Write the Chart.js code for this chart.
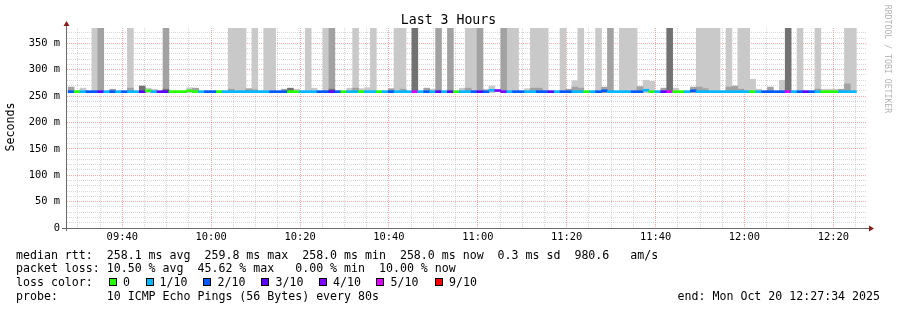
<!DOCTYPE html>
<html>
<head>
<meta charset="utf-8">
<script src="https://cdn.jsdelivr.net/npm/chart.js@4/dist/chart.umd.min.js"></script>
<style>
html,body{margin:0;padding:0;background:#fff;}
#wrap{position:relative;width:897px;height:310px;overflow:hidden;background:#fff;}
#c{position:absolute;left:0;top:0;}
.t{position:absolute;font-family:'DejaVu Sans Mono',monospace;font-size:11.6px;line-height:14px;white-space:pre;color:#000;}
.title{position:absolute;left:0;width:897px;top:12px;text-align:center;font-family:'DejaVu Sans Mono',monospace;font-size:13.2px;line-height:16px;color:#000;}
.ytitle{position:absolute;left:-40px;top:120px;width:100px;text-align:center;transform:rotate(-90deg);transform-origin:50% 50%;}
.rrd{position:absolute;font-family:'DejaVu Sans Mono',monospace;font-size:8.2px;line-height:10px;color:#b4b4b4;white-space:pre;width:120px;text-align:center;left:828px;top:54px;transform:rotate(90deg);transform-origin:50% 50%;}
.sw{position:absolute;width:8px;height:8px;box-sizing:border-box;border:1px solid #000;top:278px;}
</style>
</head>
<body>
<div id="wrap">
<canvas id="c" width="897" height="310"></canvas>
<div class="title">Last 3 Hours</div>
<div class="t ytitle">Seconds</div>
<div class="rrd">RRDTOOL / TOBI OETIKER</div>
<div id="legend"></div>
</div>
<script>
// ---- data (one value per 80 s step, 133 steps) ----
const median = [
 258.3,258.3,258.3,258.3,258.3,258.3,258.3,258.3,258.3,258.3,
 258.3,258.3,258.3,260,258.3,258.3,258.3,258.3,258.3,258.3,
 260,258.3,258.3,258.3,258.3,258.3,258.3,258.3,258.3,258.3,
 258.3,258.3,258.3,258.3,258.3,258.3,258.3,258.3,258.3,258.3,
 258.3,258.3,258.3,258.3,258.3,258.3,258.3,258.3,258.3,258.3,
 258.3,258.3,258.3,258.3,258.3,258.3,258.3,258.3,258.3,258.3,
 258.3,258.3,258.3,258.3,258.3,258.3,258.3,258.3,258.3,258.3,
 258.3,261,260.5,258.3,258.3,258.3,258.3,258.3,258.3,258.3,
 258.3,258.3,258.3,258.3,258.3,258.3,258.3,258.3,258.3,258.3,
 260,258.3,258.3,258.3,258.3,258.3,258.3,261,258.3,258.3,
 258.3,258.3,258.3,258.3,258.3,260,258.3,258.3,258.3,258.3,
 258.3,258.3,258.3,258.3,258.3,258.3,258.3,258.3,258.3,258.3,
 258.3,258.3,258.3,258.3,258.3,258.3,258.3,258.3,258.3,258.3,
 258.3,258.3,258.3];
const lossPings = [
 2,0,1,2,2,3,1,2,1,2,
 1,1,3,0,1,3,3,0,0,0,
 0,0,1,2,2,0,1,1,1,1,
 1,1,1,1,2,2,2,0,0,1,
 1,1,2,2,3,2,0,1,1,0,
 1,1,0,1,2,1,1,1,5,1,
 2,1,3,1,3,0,1,1,2,3,
 2,1,4,4,1,2,2,1,1,2,
 2,3,1,2,2,1,1,0,1,2,
 2,1,1,1,1,2,2,1,0,1,
 3,5,0,0,1,2,1,1,1,1,
 1,1,1,1,1,0,1,2,2,2,
 2,5,1,2,3,2,1,0,0,0,
 1,1,1];
const _ = null;
const smokeLight = [
 _,_,265,_,400,_,_,_,_,_,
 400,_,_,265,263,_,_,_,_,_,
 266,_,_,_,_,_,_,400,400,400,
 _,400,_,400,400,_,_,_,263,_,
 400,265,_,400,_,_,_,265,400,264,
 266,400,_,_,_,400,400,_,_,_,
 _,263,_,_,_,_,265,400,400,_,
 263,269,_,_,400,400,_,264,400,400,
 400,_,_,400,_,279,400,_,_,400,
 _,_,_,400,400,400,_,280,278,_,
 _,_,265,_,_,_,400,400,400,400,
 _,400,_,400,400,282,263,_,_,_,
 280,_,_,400,_,_,400,263,263,263,
 _,400,400];
const smokeMid = [
 267,_,_,_,_,400,_,263,_,_,
 265,_,_,_,_,_,400,_,_,_,
 _,265,_,_,_,_,_,263,_,_,
 264,262,_,_,_,_,263,_,_,_,
 _,_,_,_,400,_,_,_,265,_,
 _,_,_,_,264,_,263,_,_,_,
 265,_,400,_,400,_,_,265,_,400,
 _,_,_,400,_,_,_,_,265,265,
 _,_,_,_,263,267,265,_,_,_,
 267,400,_,_,_,_,268,_,_,_,
 265,_,_,_,_,267,267,264,_,_,
 _,267,269,263,_,_,_,_,267,_,
 _,_,_,_,_,_,263,_,_,_,
 263,273,_];
const smokeDark = [
 _,_,_,_,_,_,_,_,_,_,
 _,_,269,_,_,_,263,_,_,_,
 _,_,_,_,_,_,_,_,_,_,
 _,_,_,_,_,_,_,265,_,_,
 _,_,_,_,263,_,_,_,_,_,
 _,_,_,_,_,_,_,_,400,_,
 _,_,_,_,_,_,_,_,_,_,
 _,_,_,_,_,_,_,_,_,_,
 _,_,_,_,_,_,_,_,_,_,
 _,_,_,_,_,_,_,_,_,_,
 _,400,_,_,_,_,_,_,_,_,
 _,_,_,_,_,_,_,_,_,_,
 _,400,_,_,_,_,_,_,_,_,
 _,_,_];
const lossColors = ['#26ff00','#00b8ff','#0059ff','#5e00ff','#7e00ff','#dd00ff','#dd00ff','#dd00ff','#dd00ff','#ff0000','#ff0000'];
const legendSteps = ['0','1/10','2/10','3/10','4/10','5/10','9/10'];
const legendColors = ['#26ff00','#00b8ff','#0059ff','#5e00ff','#7e00ff','#dd00ff','#ff0000'];
const xTickMinutes = []; for (let m = 30; m <= 205; m += 5) xTickMinutes.push(m); // minutes after 09:00
const yTickValues = []; for (let v = 0; v <= 370; v += 10) yTickValues.push(v);  // ms

// ---- time axis (minutes after 09:00) ----
const xStart = 27 + 34/60;          // 09:27:34
const xEnd = xStart + 180;          // 12:27:34
const firstStep = 27 + 50/60;       // first 80 s step begins
const stepMin = 80/60;
const xOf = i => firstStep + (i + 0.5) * stepMin;
const SMOKE_BASE = 256.5;
const LINE_HALF = 1.9;

function floating(arr){
  const out=[];
  arr.forEach((v,i)=>{ if(v!==null) out.push({x:xOf(i), y:[SMOKE_BASE, v]}); });
  return out;
}
function fmt(m){ const h=Math.floor(m/60)+9, mm=m%60; return String(h).padStart(2,'0')+':'+String(mm).padStart(2,'0'); }

const GRID_MINOR = 'rgba(150,150,150,0.38)';
const GRID_MAJOR = 'rgba(230,40,40,0.4)';
const MONO = "'DejaVu Sans Mono', monospace";

const decor = {
  id:'decor',
  afterDraw(chart){
    const {ctx, chartArea:a} = chart;
    ctx.save();
    ctx.strokeStyle='#6a6a6a'; ctx.lineWidth=1;
    ctx.beginPath();
    ctx.moveTo(a.left-0.5, a.top-4); ctx.lineTo(a.left-0.5, a.bottom+3);
    ctx.moveTo(a.left-5, a.bottom+0.5); ctx.lineTo(a.right+2, a.bottom+0.5);
    ctx.stroke();
    ctx.fillStyle='#8a1c1c';
    ctx.beginPath();
    ctx.moveTo(a.left-0.5, a.top-7); ctx.lineTo(a.left-3.5, a.top-2); ctx.lineTo(a.left+2.5, a.top-2); ctx.closePath(); ctx.fill();
    ctx.beginPath();
    ctx.moveTo(a.right+7, a.bottom+0.5); ctx.lineTo(a.right+2, a.bottom-2.5); ctx.lineTo(a.right+2, a.bottom+3.5); ctx.closePath(); ctx.fill();
    ctx.restore();
  }
};

new Chart(document.getElementById('c'), {
  type:'bar',
  data:{
    datasets:[
      {label:'median rtt', data: median.map((m,i)=>({x:xOf(i), y:[m-LINE_HALF, m+LINE_HALF]})),
       backgroundColor: lossPings.map(l=>lossColors[l]), order:0},
      {label:'smoke dark', data: floating(smokeDark), backgroundColor:'#727272', order:1},
      {label:'smoke mid', data: floating(smokeMid), backgroundColor:'#a2a2a2', order:2},
      {label:'smoke light', data: floating(smokeLight), backgroundColor:'#c9c9c9', order:3}
    ]
  },
  options:{
    responsive:false, animation:false, events:[],
    devicePixelRatio:1,
    layout:{padding:{left:0,right:30,top:28,bottom:0}},
    datasets:{bar:{grouped:false, barPercentage:1, categoryPercentage:1, borderWidth:0}},
    plugins:{legend:{display:false}, tooltip:{enabled:false}, title:{display:false}},
    scales:{
      x:{type:'linear', min:xStart, max:xEnd, offset:false,
        afterFit:s=>{s.height=82;},
        afterBuildTicks:s=>{s.ticks=xTickMinutes.map(v=>({value:v}));},
        grid:{offset:false, drawTicks:false, lineWidth:1, color:c=> (c.tick && c.tick.value%20===0)?GRID_MAJOR:GRID_MINOR},
        border:{display:false, dash:[1,1]},
        ticks:{autoSkip:false, maxRotation:0, padding:3, color:'#000', font:{family:MONO,size:10.4},
          callback:v=> v%20===0 ? fmt(v) : ''}
      },
      y:{type:'linear', min:0, max:379,
        afterFit:s=>{s.width=67;},
        afterBuildTicks:s=>{s.ticks=yTickValues.map(v=>({value:v}));},
        grid:{offset:false, drawTicks:false, lineWidth:1, color:c=> (c.tick && c.tick.value%50===0)?GRID_MAJOR:GRID_MINOR},
        border:{display:false, dash:[1,1]},
        ticks:{autoSkip:false, padding:7, color:'#000', font:{family:MONO,size:10.4},
          callback:v=> v%50===0 ? (v===0?'0':v+' m') : ''}
      }
    }
  },
  plugins:[decor]
});

// ---- legend text ----
const lg = document.getElementById('legend');
function line(txt, top, left){ const d=document.createElement('div'); d.className='t'; d.style.top=top+'px'; d.style.left=left+'px'; d.textContent=txt; lg.appendChild(d); return d; }
line('median rtt:  258.1 ms avg  259.8 ms max  258.0 ms min  258.0 ms now  0.3 ms sd  980.6   am/s', 248, 16);
line('packet loss: 10.50 % avg  45.62 % max   0.00 % min  10.00 % now', 261, 16);
line('loss color:', 275, 16);
const swX=[109,146,203,261,319,376,435], txX=[123,159.5,217.5,275.5,333,390.5,449];
legendSteps.forEach((s,i)=>{
  const b=document.createElement('div'); b.className='sw'; b.style.left=swX[i]+'px'; b.style.background=legendColors[i]; lg.appendChild(b);
  line(s, 275, txX[i]);
});
line('probe:       10 ICMP Echo Pings (56 Bytes) every 80s', 289, 16);
const e=line('end: Mon Oct 20 12:27:34 2025', 289, 0); e.style.left=''; e.style.right=(897-880)+'px';
</script>
</body>
</html>
